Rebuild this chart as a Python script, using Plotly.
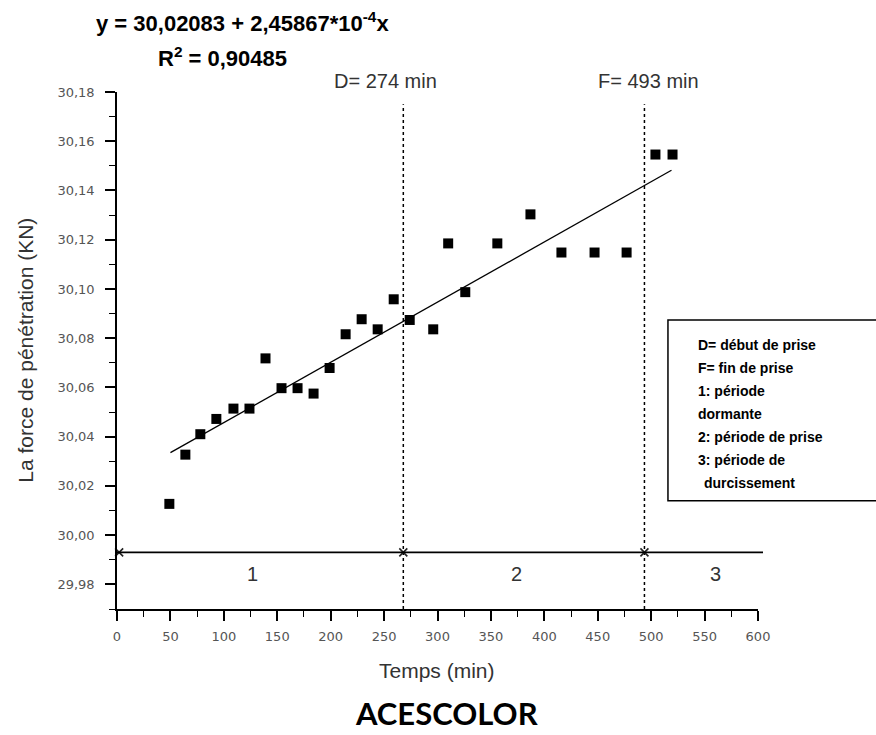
import plotly.graph_objects as go

# ---- data ----
temps = [49, 64, 78, 93, 109, 124, 139, 154, 169, 184, 199, 214, 229, 244, 259, 274,
         296, 310, 326, 356, 387, 416, 447, 477, 504, 520]
force = [30.0127, 30.0327, 30.0410, 30.0472, 30.0514, 30.0514, 30.0718, 30.0597, 30.0597,
         30.0575, 30.0679, 30.0816, 30.0877, 30.0836, 30.0958, 30.0874, 30.0836, 30.1185,
         30.0987, 30.1185, 30.1303, 30.1148, 30.1148, 30.1148, 30.1546, 30.1546]

fit_x = [50, 519]
fit_y = [30.0335, 30.1482]

d_time = 268
f_time = 493.7
vline_y = [29.97, 30.175]
phase_y = 29.993
phase_marks_x = [2, 268, 493.7]
phase_labels = ["1", "2", "3"]
phase_label_x = [126.5, 374, 560.6]
phase_label_y = 29.9843

equation = "y = 30,02083 + 2,45867*10<sup>-4</sup>x"
r2_text = "R<sup>2</sup> = 0,90485"
d_label = "D= 274 min"
f_label = "F= 493 min"
legend_lines = ["D= début de prise", "F= fin de prise", "1: période", "dormante",
                "2: période de prise", "3: période de", "durcissement"]
x_title = "Temps (min)"
y_title = "La force de pénétration (KN)"
caption = "ACESCOLOR"

FONT = "Liberation Sans, Arial, sans-serif"

# pixel -> paper helpers (plot area: x 117.3..758, y 91.7..609.3)
def px(xp):
    return (xp - 117.3) / 640.7

def py(yp):
    return (609.3 - yp) / 517.6

fig = go.Figure()

fig.add_trace(go.Scatter(x=fit_x, y=fit_y, mode="lines",
                         line=dict(color="black", width=1.3), showlegend=False))
fig.add_trace(go.Scatter(x=[d_time, d_time], y=vline_y, mode="lines",
                         line=dict(color="black", width=1.5, dash="dot"), showlegend=False))
fig.add_trace(go.Scatter(x=[f_time, f_time], y=vline_y, mode="lines",
                         line=dict(color="black", width=1.5, dash="dot"), showlegend=False))
fig.add_trace(go.Scatter(x=temps, y=force, mode="markers",
                         marker=dict(symbol="square", size=10, color="black"),
                         showlegend=False))
fig.add_trace(go.Scatter(x=phase_marks_x, y=[phase_y] * len(phase_marks_x), mode="markers",
                         marker=dict(symbol="x-thin", size=8,
                                     line=dict(color="#222", width=1.6)),
                         cliponaxis=False, showlegend=False))

shapes = [
    dict(type="line", xref="paper", yref="y", x0=0, x1=px(763), y0=phase_y, y1=phase_y,
         line=dict(color="black", width=1.6), layer="above"),
    dict(type="rect", xref="paper", yref="paper", x0=px(668), x1=px(890),
         y0=py(501), y1=py(320), line=dict(color="black", width=1.5),
         fillcolor="rgba(0,0,0,0)"),
]

def ann(text, xp, yp, size, color="#333", bold=False, family=FONT, anchor="center", angle=0):
    f = dict(family=family, size=size, color=color)
    if bold:
        f["weight"] = "bold"
    return dict(text=text, x=px(xp), y=py(yp), xref="paper", yref="paper",
                xanchor=anchor, yanchor="middle", showarrow=False, textangle=angle, font=f)

annotations = [
    ann(equation, 243, 22, 22, color="black", bold=True),
    ann(r2_text, 223, 57, 22, color="black", bold=True),
    ann(d_label, 386, 81, 20),
    ann(f_label, 649, 81, 20),
    ann(x_title, 437, 671, 21),
    ann(y_title, 25, 350, 21, angle=-90),
    ann(caption, 447, 713, 31, color="black", bold=True,
        family="Lato, Liberation Sans, sans-serif"),
]
for lab, lx in zip(phase_labels, phase_label_x):
    annotations.append(dict(text=lab, x=lx, y=phase_label_y, xref="x", yref="y",
                            xanchor="center", yanchor="middle",
                            showarrow=False, font=dict(family=FONT, size=20, color="#333")))

line_py = [345, 368.3, 391, 414, 437, 460, 483.6]
for i, (txt, lp) in enumerate(zip(legend_lines, line_py)):
    lx = 702 if i == len(legend_lines) - 1 else 696
    annotations.append(ann(txt, lx, lp, 14, color="black", bold=True, anchor="left"))

fig.update_layout(
    width=876, height=735, autosize=False,
    margin=dict(l=117, r=118, t=92, b=126),
    paper_bgcolor="white", plot_bgcolor="white",
    separators=", ",
    shapes=shapes, annotations=annotations,
    xaxis=dict(range=[0, 600], dtick=50, tick0=0, showgrid=False, zeroline=False,
               showline=True, linecolor="black", linewidth=1.5,
               ticks="outside", ticklen=10, tickwidth=1.5, tickcolor="black",
               minor=dict(dtick=25, ticks="outside", ticklen=6, tickwidth=1.3,
                          tickcolor="black"),
               tickfont=dict(family="DejaVu Sans, sans-serif", size=13, color="#555"),
               ticklabelstandoff=5),
    yaxis=dict(range=[29.97, 30.18], dtick=0.02, tick0=29.98, tickformat=".2f",
               showgrid=False, zeroline=False,
               showline=True, linecolor="black", linewidth=1.5,
               ticks="outside", ticklen=10, tickwidth=1.5, tickcolor="black",
               minor=dict(dtick=0.01, ticks="outside", ticklen=6, tickwidth=1.3,
                          tickcolor="black"),
               tickfont=dict(family="DejaVu Sans, sans-serif", size=13, color="#555"),
               ticklabelstandoff=8),
)

fig.write_html("out.html")
